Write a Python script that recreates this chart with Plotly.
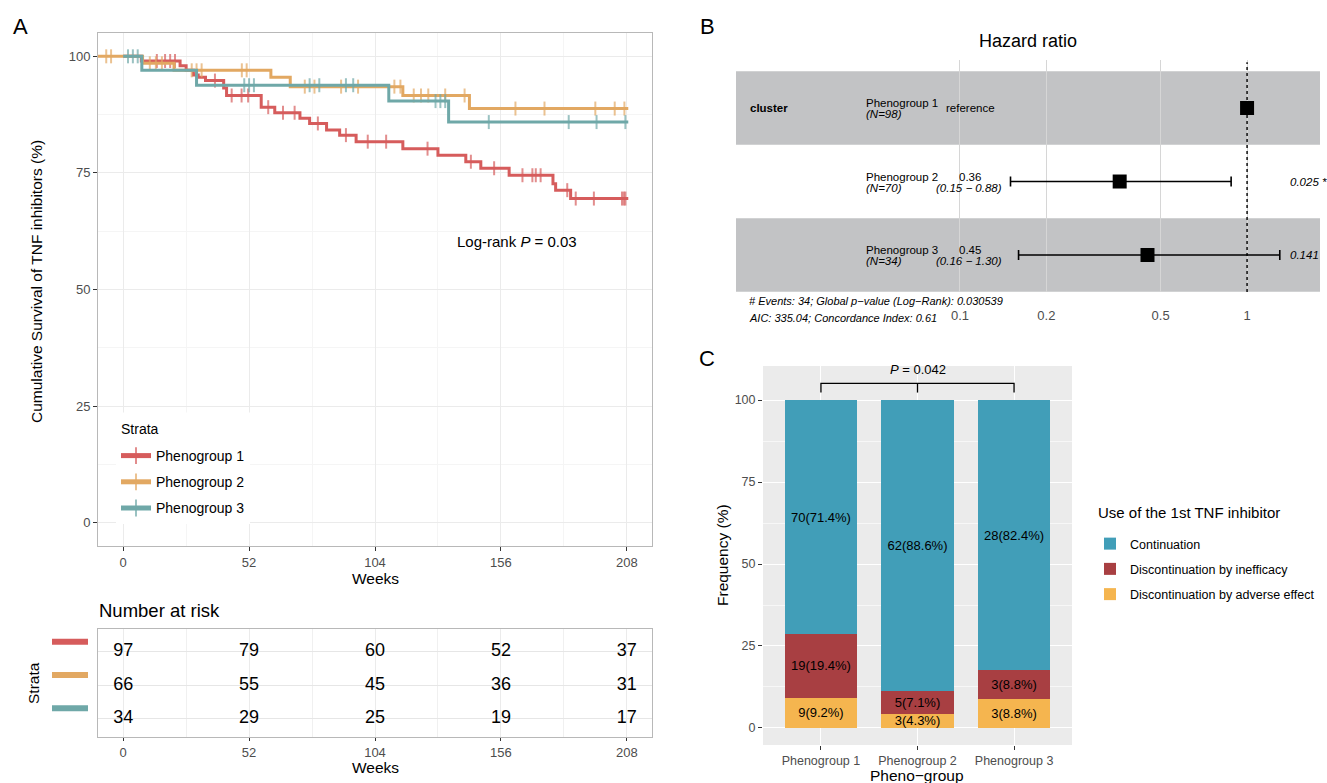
import plotly.graph_objects as go

W, H = 1327, 783
def px(x):
    return x / W
def py(y):
    return 1 - y / H

FONT = "Liberation Sans, Arial, sans-serif"
GREY = "#4D4D4D"

# ---------------- Panel A: Kaplan-Meier data ----------------
groups = ["Phenogroup 1", "Phenogroup 2", "Phenogroup 3"]
km_colors = ["#D65C5C", "#E2A862", "#6FA8A8"]

p1_times = [0, 7.5, 23.5, 26, 29, 31, 34, 41.5, 42.7, 57, 62.6, 73, 77, 84, 89.4, 96.2,
            115.5, 130, 141.5, 147.7, 159.4, 177.5, 178.6, 184.8]
p1_surv = [100, 99.0, 98.0, 97.0, 96.0, 95.5, 94.8, 93.2, 91.6, 89.1, 87.9, 86.7, 85.6, 84.2,
           83.1, 81.7, 80.2, 78.8, 77.4, 76.0, 74.5, 72.7, 71.3, 69.5]
p1_cens = [13.9, 17.3, 19.4, 21.4, 37.9, 44.8, 48.9, 51.6, 59.9, 66, 70.8, 80.4, 92, 101,
           108.6, 125.7, 143.6, 153.2, 164.9, 169, 170.4, 172.4, 183.4, 186.9, 194.4, 206,
           206.8, 207.4]
p1_end = 208.6

p2_times = [-10.6, 8, 21, 61, 69, 115.5, 143]
p2_surv = [100, 98.5, 97.0, 95.5, 93.5, 91.6, 88.8]
p2_cens = [-7, -5, 11, 13.5, 16, 28.3, 30.3, 32.4, 49, 51, 75, 79, 90, 97, 112, 114.5,
           120, 123, 126, 133, 141, 162, 174, 195, 203, 207]
p2_end = 208.6

p3_times = [0, 7.7, 30.3, 109.7, 134.4]
p3_surv = [100, 97.0, 93.8, 90.4, 85.9]
p3_cens = [2, 4, 6, 50, 52, 54, 77, 81, 92, 95, 129, 131, 133, 151, 184, 195.5, 207.4]
p3_end = 208.6

logrank_text = "Log-rank <i>P</i> = 0.03"

# ---------------- Number at risk ----------------
risk_weeks = [0, 52, 104, 156, 208]
risk_p1 = [97, 79, 60, 52, 37]
risk_p2 = [66, 55, 45, 36, 31]
risk_p3 = [34, 29, 25, 19, 17]

# ---------------- Panel B: forest plot ----------------
hr_est = [1.0, 0.36, 0.45]
hr_lo = [1.0, 0.15, 0.16]
hr_hi = [1.0, 0.88, 1.30]
hr_n = [98, 70, 34]
hr_label = ["reference", "0.36", "0.45"]
hr_ci_label = ["", "(0.15 \u2212 0.88)", "(0.16 \u2212 1.30)"]
hr_p = ["", "0.025 *", "0.141"]
hr_ticks = [0.1, 0.2, 0.5, 1]
forest_footer = ["# Events: 34; Global p\u2212value (Log\u2212Rank): 0.030539",
                 "AIC: 335.04; Concordance Index: 0.61"]

# ---------------- Panel C: stacked bars ----------------
bar_cats = ["Continuation", "Discontinuation by inefficacy", "Discontinuation by adverse effect"]
bar_colors = ["#419EB8", "#A83F42", "#F5B54F"]
cont_n = [70, 62, 28]
cont_pct = [71.4, 88.6, 82.4]
ineff_n = [19, 5, 3]
ineff_pct = [19.4, 7.1, 8.8]
adv_n = [9, 3, 3]
adv_pct = [9.2, 4.3, 8.8]
p_text = "<i>P</i> = 0.042"


def level_at(times, surv, t):
    s = surv[0]
    for ti, si in zip(times, surv):
        if ti <= t:
            s = si
    return s


def km_path(times, surv, cens, end):
    pts = [(t, s, 0) for t, s in zip(times, surv)]
    pts += [(c, level_at(times, surv, c), 10) for c in cens]
    pts.append((end, level_at(times, surv, end), 0))
    pts.sort(key=lambda p: (p[0], -p[1]))
    return [p[0] for p in pts], [p[1] for p in pts], [p[2] for p in pts]


fig = go.Figure()

km_data = [(p1_times, p1_surv, p1_cens, p1_end),
           (p2_times, p2_surv, p2_cens, p2_end),
           (p3_times, p3_surv, p3_cens, p3_end)]
for name, col, (tt, ss, cc, ee) in zip(groups, km_colors, km_data):
    xs, ys, sz = km_path(tt, ss, cc, ee)
    fig.add_trace(go.Scatter(
        x=xs, y=ys, mode="lines+markers", name=name, legendgroup=name,
        line=dict(color=col, width=3, shape="hv"),
        marker=dict(symbol="line-ns-open", size=sz, color=col, line=dict(color=col, width=2)),
        xaxis="x", yaxis="y", legend="legend", hoverinfo="skip"))

# risk table
risk_rows = [3, 2, 1]
for row, vals in zip(risk_rows, [risk_p1, risk_p2, risk_p3]):
    fig.add_trace(go.Scatter(
        x=risk_weeks, y=[row] * len(risk_weeks), mode="text",
        text=[str(v) for v in vals], textposition="middle center",
        textfont=dict(size=18, color="black", family=FONT),
        xaxis="x2", yaxis="y2", showlegend=False, hoverinfo="skip"))

# forest
forest_rows = [1, 2, 3]
fig.add_trace(go.Scatter(
    x=hr_est, y=forest_rows, mode="markers",
    marker=dict(symbol="square", size=14, color="black"),
    error_x=dict(type="data", symmetric=False,
                 array=[h - e for h, e in zip(hr_hi, hr_est)],
                 arrayminus=[e - l for e, l in zip(hr_est, hr_lo)],
                 color="black", thickness=1.6, width=5),
    xaxis="x3", yaxis="y3", showlegend=False, hoverinfo="skip"))

# stacked bars (bottom to top); legend ranked top to bottom
for cat, col, ns, pcts, rank in [(bar_cats[2], bar_colors[2], adv_n, adv_pct, 3),
                                 (bar_cats[1], bar_colors[1], ineff_n, ineff_pct, 2),
                                 (bar_cats[0], bar_colors[0], cont_n, cont_pct, 1)]:
    fig.add_trace(go.Bar(
        x=groups, y=pcts, name=cat, legendgroup=cat, legendrank=rank,
        marker=dict(color=col, line=dict(width=0)),
        text=[f"{n}({p}%)" for n, p in zip(ns, pcts)],
        textposition="inside", insidetextanchor="middle", textangle=0,
        textfont=dict(size=13, color="black", family=FONT),
        xaxis="x4", yaxis="y4", legend="legend2", hoverinfo="skip"))

# bracket for P value
br_hi, br_lo = 105.1, 102.3
fig.add_trace(go.Scatter(
    x=[groups[0], groups[0], groups[2], groups[2], None, groups[1], groups[1]],
    y=[br_lo, br_hi, br_hi, br_lo, None, br_hi, br_lo],
    mode="lines", line=dict(color="black", width=1.3),
    xaxis="x4", yaxis="y4", showlegend=False, hoverinfo="skip"))

ax_common = dict(ticks="outside", ticklen=4, tickcolor="#333333", tickwidth=1,
                 tickfont=dict(size=13, color=GREY, family=FONT), zeroline=False)

fig.update_layout(
    width=W, height=H, margin=dict(l=0, r=0, t=0, b=0),
    paper_bgcolor="white", plot_bgcolor="white",
    font=dict(family=FONT, color="black"),
    barmode="stack", bargap=0.25,
    uniformtext=dict(minsize=13, mode="show"),
    xaxis=dict(domain=[px(98), px(652)], anchor="y", range=[-10.4, 218.4],
               tickvals=risk_weeks, showgrid=True, gridcolor="#EBEBEB", gridwidth=1,
               minor=dict(tickvals=[26, 78, 130, 182], showgrid=True, gridcolor="#F5F5F5", gridwidth=0.7),
               showline=True, mirror=True, linecolor="#B8B8B8", linewidth=1, **ax_common),
    yaxis=dict(domain=[py(546), py(33)], anchor="x", range=[-5, 105],
               tickvals=[0, 25, 50, 75, 100], showgrid=True, gridcolor="#EBEBEB", gridwidth=1,
               minor=dict(tickvals=[12.5, 37.5, 62.5, 87.5], showgrid=True, gridcolor="#F5F5F5", gridwidth=0.7),
               showline=True, mirror=True, linecolor="#B8B8B8", linewidth=1, **ax_common),
    xaxis2=dict(domain=[px(98), px(652)], anchor="y2", range=[-10.4, 218.4],
                tickvals=risk_weeks, showgrid=True, gridcolor="#EBEBEB", gridwidth=1,
                minor=dict(tickvals=[26, 78, 130, 182], showgrid=True, gridcolor="#F0F0F0", gridwidth=0.7),
                showline=True, mirror=True, linecolor="#B8B8B8", linewidth=1,
                ticks="outside", ticklen=3, tickcolor="#333333", tickwidth=1,
                tickfont=dict(size=13, color=GREY, family=FONT), zeroline=False),
    yaxis2=dict(domain=[py(737), py(629)], anchor="x2", range=[0.44, 3.68],
                tickvals=risk_rows, showticklabels=False, ticks="", showgrid=True,
                gridcolor="#E6E6E6", gridwidth=1, zeroline=False,
                showline=True, mirror=True, linecolor="#B8B8B8", linewidth=1),
    xaxis3=dict(domain=[px(736), px(1320)], anchor="y3", type="log", range=[-1.78, 0.254],
                tickvals=hr_ticks, ticktext=[str(t) for t in hr_ticks],
                showgrid=True, gridcolor="#D6D6D6", gridwidth=1, showline=False, zeroline=False,
                ticks="", ticklabelstandoff=14,
                tickfont=dict(size=13, color=GREY, family=FONT)),
    yaxis3=dict(domain=[py(292), py(60)], anchor="x3", range=[3.503, 0.347],
                visible=False, showgrid=False, zeroline=False),
    xaxis4=dict(domain=[px(763), px(1072)], anchor="y4", type="category", range=[-0.6, 2.6],
                showgrid=True, gridcolor="white", gridwidth=1.1, showline=False,
                ticks="outside", ticklen=4, tickcolor="#333333",
                tickfont=dict(size=12.5, color=GREY, family=FONT), zeroline=False),
    yaxis4=dict(domain=[py(745), py(366)], anchor="x4", range=[-5.2, 110.4],
                tickvals=[0, 25, 50, 75, 100], showgrid=True, gridcolor="white", gridwidth=1.1,
                minor=dict(tickvals=[12.5, 37.5, 62.5, 87.5], showgrid=True, gridcolor="#F7F7F7", gridwidth=0.6),
                showline=False, ticks="outside", ticklen=4, tickcolor="#333333",
                tickfont=dict(size=12.5, color=GREY, family=FONT), zeroline=False),
    legend=dict(x=px(116), y=py(440), xanchor="left", yanchor="top",
                bgcolor="white", borderwidth=0,
                font=dict(size=14, color="black", family=FONT),
                itemsizing="constant", tracegroupgap=5, itemwidth=30),
    legend2=dict(x=px(1090), y=py(529), xanchor="left", yanchor="top",
                 bgcolor="rgba(0,0,0,0)", traceorder="grouped",
                 font=dict(size=12.5, color="black", family=FONT),
                 tracegroupgap=6, itemwidth=30),
)

shapes = []
# Forest grey bands
for r in [1, 3]:
    shapes.append(dict(type="rect", xref="x3 domain", yref="y3", x0=0, x1=1, y0=r - 0.5, y1=r + 0.5,
                       fillcolor="#C2C3C5", line=dict(width=0), layer="below"))
# reference dotted line at HR = 1
shapes.append(dict(type="line", xref="x3", yref="y3 domain", x0=1, x1=1, y0=0, y1=0.99,
                   line=dict(color="black", width=1.4, dash="dot")))
# panel C background
shapes.append(dict(type="rect", xref="x4 domain", yref="y4 domain", x0=0, x1=1, y0=0, y1=1,
                   fillcolor="#EBEBEB", line=dict(width=0), layer="below"))
# strata colour keys in risk table
for row, col in zip(risk_rows, km_colors):
    shapes.append(dict(type="line", xref="paper", yref="y2", x0=px(52), x1=px(88),
                       y0=row + 0.3, y1=row + 0.3, line=dict(color=col, width=6)))
fig.update_layout(shapes=shapes)

ann = []
def add_text(text, x, y, size, xanchor="center", yanchor="middle", angle=0, **kw):
    d = dict(text=text, x=x, y=y, xref="paper", yref="paper", showarrow=False,
             xanchor=xanchor, yanchor=yanchor, textangle=angle,
             font=dict(size=size, color=kw.pop("color", "black"), family=FONT))
    d.update(kw)
    ann.append(d)

# panel letters
add_text("A", px(20), py(27), 22)
add_text("B", px(707), py(27), 22)
add_text("C", px(707), py(358), 22)

# Panel A titles
add_text("Cumulative Survival of TNF inhibitors (%)", px(37), py(282), 15.5, angle=-90)
add_text("Weeks", px(375), py(578), 15.5)
ann.append(dict(text=logrank_text, x=162.5, y=60.3, xref="x", yref="y", showarrow=False,
                font=dict(size=15, color="black", family=FONT)))
# legend title box for strata
add_text("Strata", px(120), py(412), 14, xanchor="left", yanchor="top",
         width=130, height=31, align="left", valign="middle", bgcolor="white", borderpad=0)
add_text("Number at risk", px(97), py(610), 18.5, xanchor="left")
add_text("Weeks", px(375), py(767), 15.5)
add_text("Strata", px(33), py(683), 15.5, angle=-90)

# Panel B texts
add_text("Hazard ratio", px(1028), py(41), 18)
ann.append(dict(text="<b>cluster</b>", x=px(748), y=1, xref="paper", yref="y3", showarrow=False,
                xanchor="left", font=dict(size=11.5, color="black", family=FONT)))
for r, g, n, lab, ci, pv in zip(forest_rows, groups, hr_n, hr_label, hr_ci_label, hr_p):
    ann.append(dict(text=g, x=px(864), y=r, xref="paper", yref="y3", showarrow=False,
                    xanchor="left", yshift=5, font=dict(size=11.5, color="black", family=FONT)))
    ann.append(dict(text=f"<i>(N={n})</i>", x=px(864), y=r, xref="paper", yref="y3", showarrow=False,
                    xanchor="left", yshift=-6, font=dict(size=11.5, color="black", family=FONT)))
    if ci:
        ann.append(dict(text=lab, x=px(957), y=r, xref="paper", yref="y3", showarrow=False,
                        xanchor="left", yshift=5, font=dict(size=11.5, color="black", family=FONT)))
        ann.append(dict(text=f"<i>{ci}</i>", x=px(1004), y=r, xref="paper", yref="y3", showarrow=False,
                        xanchor="right", yshift=-6, font=dict(size=11.5, color="black", family=FONT)))
    else:
        ann.append(dict(text=lab, x=px(944), y=r, xref="paper", yref="y3", showarrow=False,
                        xanchor="left", font=dict(size=11.5, color="black", family=FONT)))
    if pv:
        ann.append(dict(text=f"<i>{pv}</i>", x=px(1288), y=r, xref="paper", yref="y3", showarrow=False,
                        xanchor="left", font=dict(size=11.5, color="black", family=FONT)))
add_text(f"<i>{forest_footer[0]}</i>", px(747), py(301), 11, xanchor="left")
add_text(f"<i>{forest_footer[1]}</i>", px(747), py(318), 11, xanchor="left")

# Panel C titles
add_text("Frequency (%)", px(722), py(555), 15.5, angle=-90)
add_text("Pheno\u2212group", px(917), py(775), 15.5)
add_text("Use of the 1st TNF inhibitor", px(1096), py(512), 15, xanchor="left")
ann.append(dict(text=p_text, x=groups[1], y=109.2, xref="x4", yref="y4", showarrow=False,
                font=dict(size=13, color="black", family=FONT)))

fig.update_layout(annotations=ann)

fig.write_html("out.html", config={"displayModeBar": False},
               post_script="document.body.style.margin='0';document.body.style.overflow='hidden';")
